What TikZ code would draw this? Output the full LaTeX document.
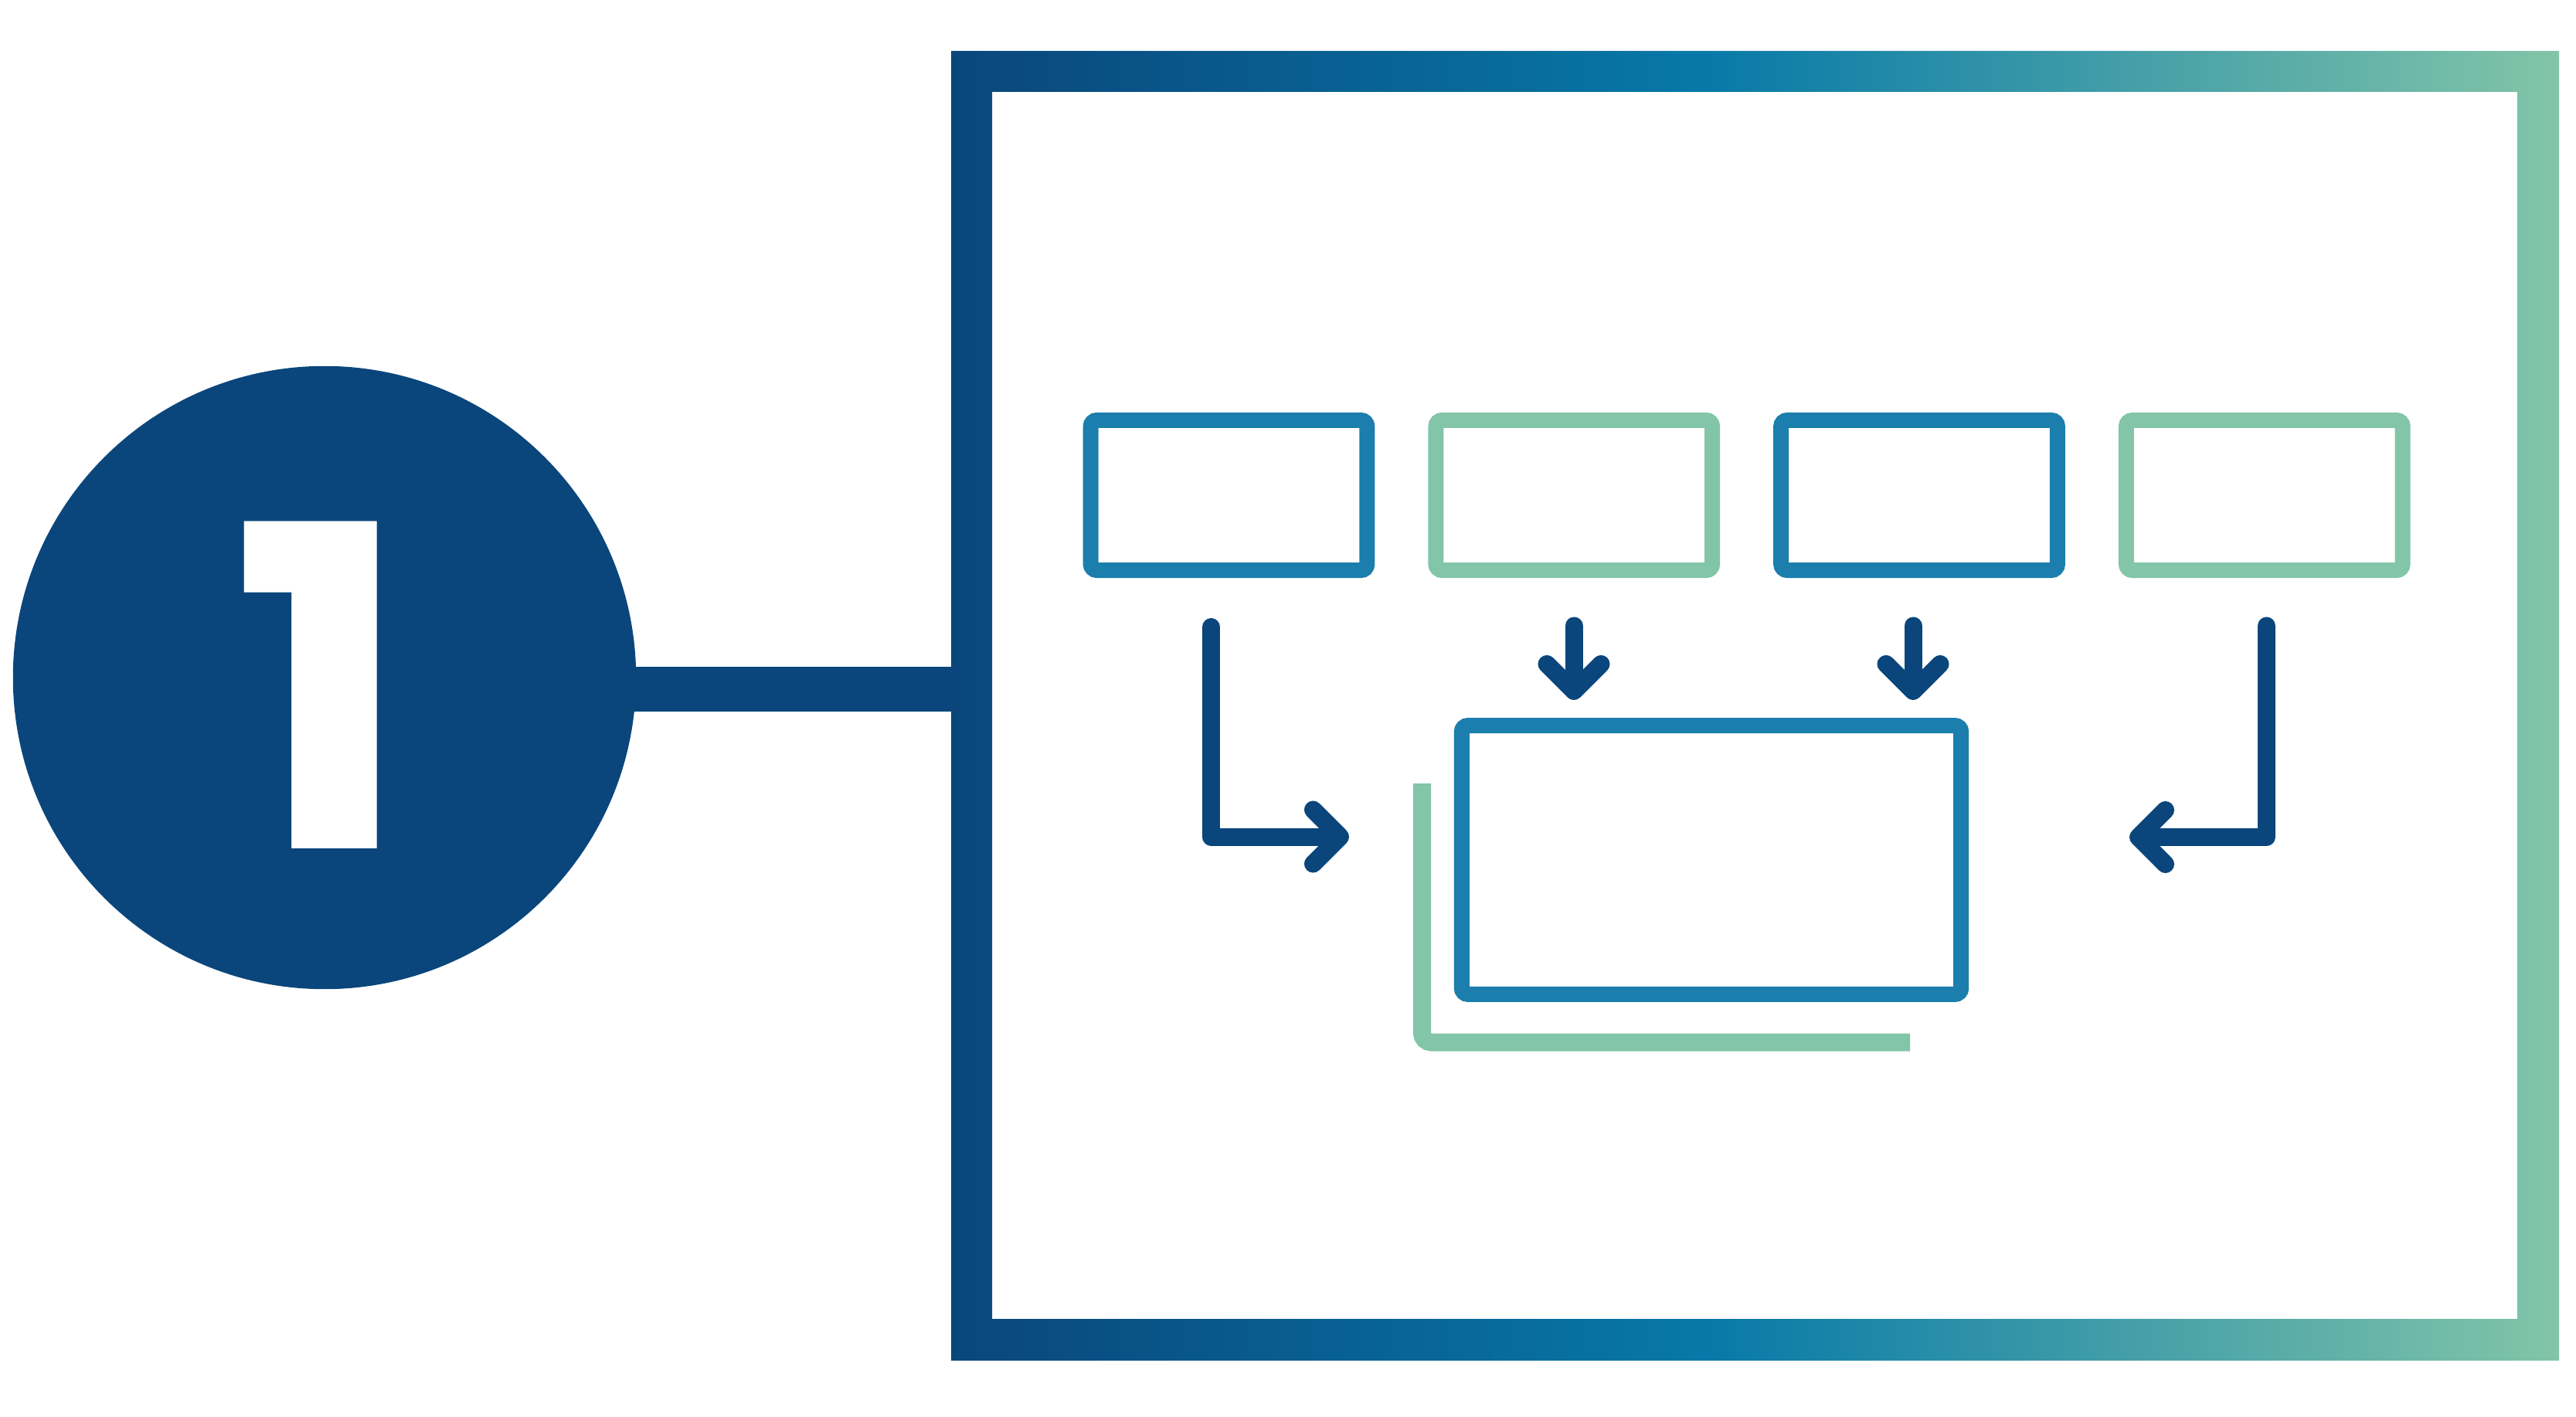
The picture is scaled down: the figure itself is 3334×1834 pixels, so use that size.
\documentclass[tikz,border=0pt]{standalone}
\usepackage{fontspec}
\newfontfamily\digitfont{Poppins}
\usetikzlibrary{arrows.meta, positioning}

\definecolor{navy}{HTML}{0A467B}
\definecolor{steel}{HTML}{1B7EAC}
\definecolor{sea}{HTML}{0779A8}
\definecolor{mint}{HTML}{82C5A8}
\pgfdeclarehorizontalshading{framefade}{100bp}{color(0bp)=(navy); color(25bp)=(navy); color(48.5bp)=(sea); color(75bp)=(mint); color(100bp)=(mint)}

\begin{document}
\begin{tikzpicture}[x=0.01cm, y=-0.01cm,
  slot/.style={draw=#1, line width=0.2cm, rounded corners=0.08cm, minimum width=3.575cm, minimum height=1.94cm, inner sep=0pt},
  arr/.style={-{Straight Barb[round, length=0.35cm, width=0.7cm]}, draw=navy, line width=0.23cm, line cap=round, line join=round}
]
\useasboundingbox (0,0) rectangle (3334,1834);

% outer frame
\shade[shading=framefade, even odd rule] (1231,66) rectangle (3312,1761) (1284,119) rectangle (3258,1707);

% step badge
\node[circle, fill=navy, minimum size=8.06cm, inner sep=0pt] (badge) at (420,877) {};
\coordinate (frameleft) at (1236,892);
\draw[navy, line width=0.58cm] (badge.center |- frameleft) -- (frameleft);
\node[text=white, inner sep=0pt, xscale=1.07, font=\digitfont\bfseries\fontsize{165}{165}\selectfont] (num) at (416,887) {1};

% input boxes
\node[slot=steel] (in1) at (1590.5,641) {};
\node[slot=mint, right=0.69cm of in1] (in2) {};
\node[slot=steel, right=0.69cm of in2] (in3) {};
\node[slot=mint, right=0.69cm of in3] (in4) {};

% merged box
\node[slot=steel, minimum width=6.46cm, minimum height=3.475cm] (core) at (2215,1113) {};
\draw[mint, line width=0.23cm, rounded corners=0.12cm] (1840.5,1014) |- (2472,1349);

% arrows
\coordinate (a1) at (1567.5,811.5);
\coordinate (a1e) at (1746,1083);
\coordinate (d1) at (2037,810);
\coordinate (d1e) at (2037,906);
\coordinate (d2) at (2476,810);
\coordinate (d2e) at (2476,906);
\coordinate (a4) at (2933.5,810);
\coordinate (a4e) at (2756,1083.5);
\draw[arr] (a1) |- (a1e);
\draw[arr] (d1) -- (d1e);
\draw[arr] (d2) -- (d2e);
\draw[arr] (a4) |- (a4e);
\end{tikzpicture}
\end{document}
